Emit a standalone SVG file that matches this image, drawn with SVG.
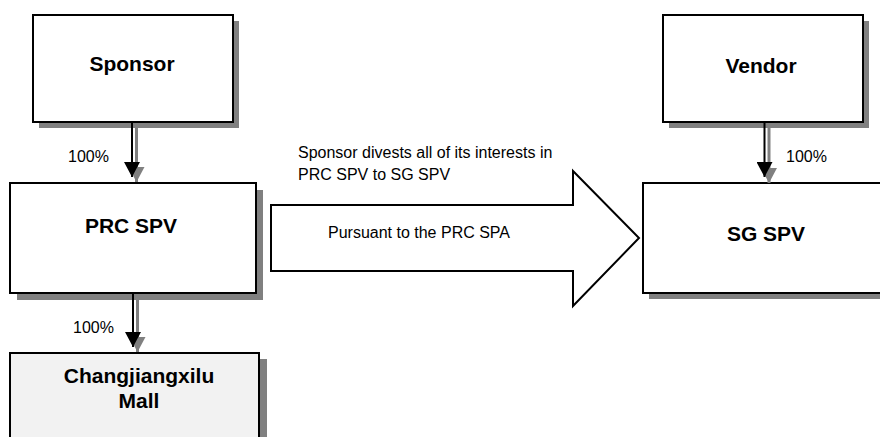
<svg xmlns="http://www.w3.org/2000/svg" width="880" height="437" viewBox="0 0 880 437">
<style>
.box{fill:#fff;stroke:#000;stroke-width:2}
.mall{fill:#f2f2f2;stroke:#000;stroke-width:2}
.shadow{fill:#808080}
.bold{font-family:"Liberation Sans",Arial,sans-serif;font-weight:bold;font-size:21px;text-anchor:middle;fill:#000}
.lbl{font-family:"Liberation Sans",Arial,sans-serif;font-size:16px;fill:#000}
.ln{stroke:#000;stroke-width:2;fill:none}
.lns{stroke:#808080;stroke-width:3;fill:none}
</style>
<defs>
<marker id="hb" markerUnits="userSpaceOnUse" markerWidth="15" markerHeight="16" refX="15" refY="8" orient="auto">
<path d="M0,0 L15,8 L0,16 Z" fill="#000"/>
</marker>
<marker id="hg" markerUnits="userSpaceOnUse" markerWidth="15" markerHeight="16" refX="15" refY="8" orient="auto">
<path d="M0,0 L15,8 L0,16 Z" fill="#808080"/>
</marker>
</defs>
<rect width="880" height="437" fill="#fff"/>

<g id="sponsor">
<rect class="shadow" x="39" y="21" width="200" height="107"/>
<rect class="box" x="33" y="15" width="200" height="107"/>
<text class="bold" x="132" y="71">Sponsor</text>
</g>

<g id="prc-spv">
<rect class="shadow" x="17" y="190" width="246" height="110"/>
<rect class="box" x="10" y="183" width="246" height="110"/>
<text class="bold" x="131" y="233">PRC SPV</text>
</g>

<g id="mall">
<rect class="shadow" x="18" y="359" width="249" height="100"/>
<rect class="mall" x="10" y="353" width="249" height="100"/>
<text class="bold" x="139" y="383">Changjiangxilu</text>
<text class="bold" x="139" y="408">Mall</text>
</g>

<g id="vendor">
<rect class="shadow" x="669" y="21" width="200" height="107"/>
<rect class="box" x="663" y="15" width="200" height="107"/>
<text class="bold" x="761" y="73">Vendor</text>
</g>

<g id="sg-spv">
<rect class="shadow" x="649" y="189" width="246" height="110"/>
<rect class="box" x="643" y="183" width="246" height="110"/>
<text class="bold" x="766" y="241">SG SPV</text>
</g>

<g id="transfer">
<polygon points="271,205 573,205 573,171 639,238 573,306 573,271 271,271" fill="#fff" stroke="#000" stroke-width="2"/>
<text class="lbl" x="298" y="158">Sponsor divests all of its interests in</text>
<text class="lbl" x="298" y="180">PRC SPV to SG SPV</text>
<text class="lbl" x="328" y="238">Pursuant to the PRC SPA</text>
</g>

<g id="connectors">
<line class="lns" x1="136.5" y1="128" x2="136.5" y2="182" marker-end="url(#hg)"/>
<line class="ln" x1="132" y1="122" x2="132" y2="177" marker-end="url(#hb)"/>
<line class="lns" x1="137.5" y1="300" x2="137.5" y2="352" marker-end="url(#hg)"/>
<line class="ln" x1="133" y1="293" x2="133" y2="347" marker-end="url(#hb)"/>
<line class="lns" x1="769" y1="128" x2="769" y2="183" marker-end="url(#hg)"/>
<line class="ln" x1="764.5" y1="122" x2="764.5" y2="177" marker-end="url(#hb)"/>
<text class="lbl" x="68" y="162">100%</text>
<text class="lbl" x="73" y="333">100%</text>
<text class="lbl" x="786" y="162">100%</text>
</g>
</svg>
